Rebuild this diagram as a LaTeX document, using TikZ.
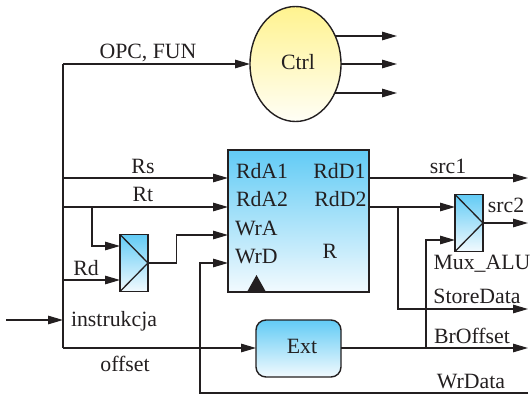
\documentclass[tikz,border=0pt]{standalone}
\usepackage{fontspec}
\setmainfont{Liberation Serif}
\usetikzlibrary{arrows.meta,shapes.geometric,calc}
\definecolor{ink}{HTML}{231F20}
\definecolor{cyantop}{HTML}{62CBF5}
\definecolor{cyanbot}{HTML}{F2FAFE}
\definecolor{yeltop}{HTML}{FFF38F}
\definecolor{yelbot}{HTML}{FFFEF6}
\tikzset{
  wire/.style={draw=ink,line width=1.3pt},
  arr/.style={wire,-{Triangle[length=15pt,width=8.5pt]}},
  block/.style={draw=ink,line width=1.4pt,rectangle,inner sep=0pt,outer sep=0pt,
     top color=cyantop,bottom color=cyanbot},
  lab/.style={anchor=base,inner sep=0pt,outer sep=0pt,text=ink,font=\fontsize{21.8pt}{23pt}\selectfont},
  labl/.style={lab,anchor=base west},
  labr/.style={lab,anchor=base east},
  muxbox/.style={block,minimum width=28pt,minimum height=57pt},
}
\begin{document}
\begin{tikzpicture}[x=1pt,y=-1pt]
\useasboundingbox (0,0) rectangle (531,394);
% blocks
\node[block,minimum width=141pt,minimum height=142pt] (reg) at (298.5,221) {};
\node[muxbox] (muxa) at (134,263) {};
\node[muxbox] (muxb) at (469,223) {};
\node[block,rounded corners=10pt,minimum width=85pt,minimum height=57pt] (ext) at (298.5,348.5) {};
\node[draw=ink,line width=1.4pt,ellipse,inner sep=0pt,outer sep=0pt,minimum width=91pt,minimum height=115pt,
      top color=yeltop,bottom color=yelbot] (ctrl) at (295.5,64) {};
% mux inner lines
\draw[wire] (muxa.north west) -- (muxa.east) -- (muxa.south west);
\draw[wire] (muxb.north west) -- (muxb.east) -- (muxb.south west);
% clock triangle
\fill[ink] (247,292) -- (256.5,275) -- (266,292) -- cycle;
% free ends and junctions
\coordinate (instr) at (6,320);
\coordinate (trunk) at (63,320);
\coordinate (top) at (63,64);
\coordinate (bot) at (63,348);
\coordinate (rs) at (63,178);
\coordinate (rt) at (63,207);
\coordinate (rtb) at (92,207);
\coordinate (rd) at (63,280);
\coordinate (regA) at (228,178);
\coordinate (regB) at (228,207);
\coordinate (regC) at (228,235);
\coordinate (regD) at (228,263);
\coordinate (regE) at (369,178);
\coordinate (regF) at (369,207);
\coordinate (wrend) at (528,393);
\coordinate (o1) at (397,36);
\coordinate (o2) at (397,64);
\coordinate (o3) at (397,93);
\coordinate (c1) at (335,36);
\coordinate (c3) at (335,93);
% connectors
\draw[arr] (instr) -- (trunk);
\draw[wire] (top) -- (bot);
\draw[arr] (top) -- (ctrl.west);
\draw[arr] (c1) -- (o1);
\draw[arr] (ctrl.east) -- (o2);
\draw[arr] (c3) -- (o3);
\draw[arr] (rs) -- (regA);
\draw[arr] (rt) -- (regB);
\draw[arr] (rtb) |- (muxa.west |- 0,246);
\draw[arr] (rd) -- (muxa.west |- rd);
\draw[arr] (muxa.east) -- (176.5,263) |- (regC);
\draw[arr] (bot) -- (ext.west |- bot);
\draw[arr] (wrend) -| (200,263) -- (regD);
\draw[arr] (regE) -- (528,178);
\draw[arr] (regF) -- (muxb.west |- regF);
\draw[arr] (398,207) |- (528,309);
\draw[arr] (muxb.east) -- (528,223);
\draw[arr] (ext.east |- bot) -- (528,348);
\draw[arr] (426,348) |- (muxb.west |- 0,240);
% labels
\node[lab] (l1) at (148,58) {OPC, FUN};
\node[lab] (l2) at (143,173) {Rs};
\node[lab] (l3) at (143,201) {Rt};
\node[lab] (l4) at (86,275) {Rd};
\node[lab] (l5) at (114,326) {instrukcja};
\node[lab] (l6) at (125,371) {offset};
\node[labl] (l7) at (236,178) {RdA1};
\node[labl] (l8) at (236,206) {RdA2};
\node[labl] (l9) at (235,235) {WrA};
\node[labl] (l10) at (235,263) {WrD};
\node[labr] (l11) at (365.5,178) {RdD1};
\node[labr] (l12) at (366.5,206) {RdD2};
\node[lab] (l13) at (330,258) {R};
\node[lab] (l14) at (448,173) {src1};
\node[lab] (l15) at (506,212) {src2};
\node[lab] (l16) at (482,269) {Mux\_ALU};
\node[lab] (l17) at (477,303) {StoreData};
\node[lab] (l18) at (472,343) {BrOffset};
\node[lab] (l19) at (471,388) {WrData};
\node[lab] (l20) at (302,353) {Ext};
\node[lab] (l21) at (298,69) {Ctrl};
\end{tikzpicture}
\end{document}
